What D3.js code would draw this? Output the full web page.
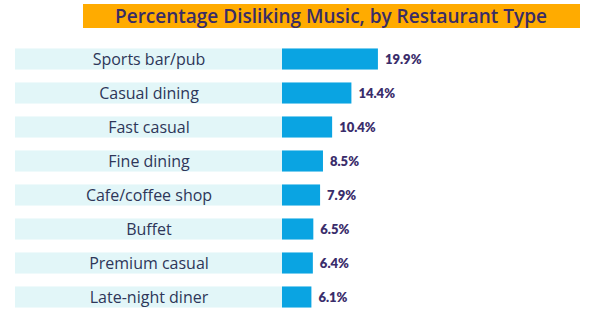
<!DOCTYPE html>
<html>
<head>
<meta charset="utf-8">
<script src="https://cdn.jsdelivr.net/npm/d3@7"></script>
<style>
  html, body { margin: 0; padding: 0; background: #ffffff; }
  svg { display: block; }
</style>
</head>
<body>
<svg id="chart" width="596" height="329"></svg>
<script>
// Restaurant types and the share of diners who dislike the music there (%)
const categories = ["Sports bar/pub", "Casual dining", "Fast casual", "Fine dining",
  "Cafe/coffee shop", "Buffet", "Premium casual", "Late-night diner"];
const values = [19.9, 14.4, 10.4, 8.5, 7.9, 6.5, 6.4, 6.1];
const titleText = "Percentage Disliking Music, by Restaurant Type";

const svg = d3.select("#chart");

// Title banner
svg.append("rect")
  .attr("x", 83).attr("y", 4).attr("width", 497).attr("height", 24)
  .attr("fill", "#ffab00");
svg.append("text")
  .attr("x", 331).attr("y", 22.5)
  .attr("text-anchor", "middle")
  .attr("font-family", "'Open Sans', sans-serif")
  .attr("font-size", 19)
  .attr("font-weight", 600)
  .attr("fill", "#392c66")
  .text(titleText);

// Row layout
const y = d3.scaleBand()
  .domain(categories)
  .range([42, 314])
  .paddingInner(0.38)
  .paddingOuter(0.19);

const x = d3.scaleLinear().domain([0, 20]).range([282, 378.4]);

const rows = svg.append("g").selectAll("g")
  .data(categories.map((c, i) => ({ c, v: values[i] })))
  .join("g");

// Light band behind each category name
rows.append("rect")
  .attr("x", 15).attr("width", 267)
  .attr("y", d => y(d.c))
  .attr("height", y.bandwidth())
  .attr("fill", "#e2f6f8");

rows.append("text")
  .attr("x", 149)
  .attr("y", d => y(d.c) + y.bandwidth() / 2)
  .attr("dy", "0.35em")
  .attr("text-anchor", "middle")
  .attr("font-family", "'Open Sans', sans-serif")
  .attr("font-size", 16)
  .attr("fill", "#2e3659")
  .text(d => d.c);

// Value bars
rows.append("rect")
  .attr("x", x(0))
  .attr("y", d => y(d.c))
  .attr("width", d => x(d.v) - x(0))
  .attr("height", y.bandwidth())
  .attr("fill", "#0aa4e2");

rows.append("text")
  .attr("x", d => x(d.v) + 7)
  .attr("y", d => y(d.c) + y.bandwidth() / 2)
  .attr("dy", "0.35em")
  .attr("font-family", "Lato, sans-serif")
  .attr("font-size", 13)
  .attr("font-weight", 800)
  .attr("fill", "#3a2d6b")
  .text(d => d.v.toFixed(1) + "%");
</script>
</body>
</html>
